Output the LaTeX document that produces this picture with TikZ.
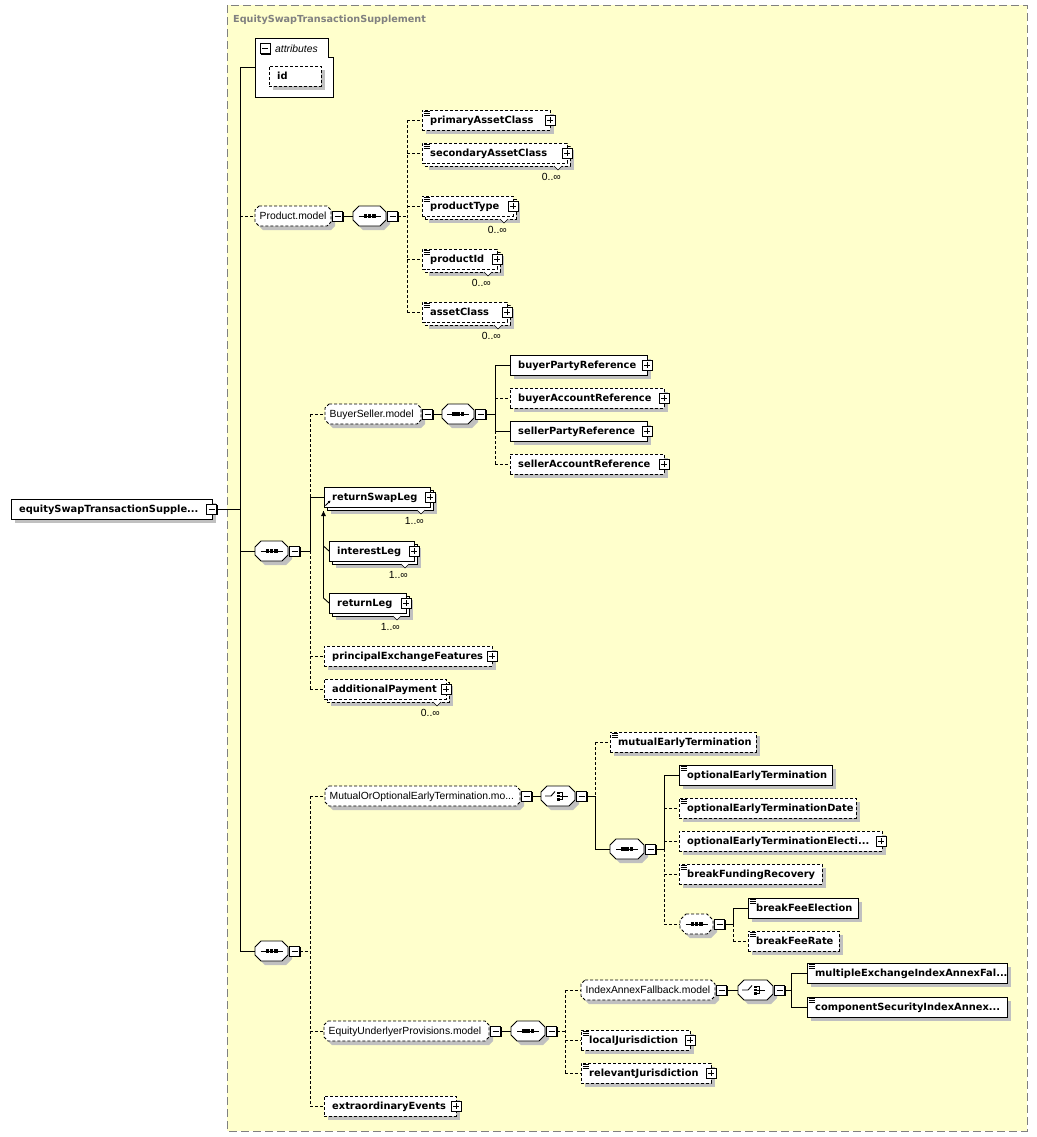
\documentclass[tikz,border=0pt]{standalone}
\usepackage{fontspec}
\setmainfont{Liberation Sans}
\newfontfamily\dvs{DejaVu Sans}
\usetikzlibrary{arrows.meta}
\definecolor{bgy}{HTML}{FFFFCC}
\definecolor{shd}{HTML}{C0C0C0}
\definecolor{frm}{HTML}{808080}
\tikzset{
  ln/.style={line width=0.9bp,draw=black},
  dsh/.style={dash pattern=on 3bp off 2bp},
  ebox/.style={draw=black,line width=0.9bp,fill=white,minimum height=20bp,inner sep=0pt,outer sep=0pt,anchor=west},
  etext/.style={font={\fontsize{9.9}{11}\dvs\bfseries},inner sep=0pt,anchor=base west},
  gtext/.style={font={\fontsize{10.4}{12}\selectfont},inner sep=0pt,anchor=base west},
  mult/.style={font={\fontsize{10.4}{12}\selectfont},inner sep=0pt,anchor=base east},
  pmbox/.style={draw=black,fill=white,line width=0.8bp,minimum size=10bp,inner sep=0pt,outer sep=0pt},
  anch/.style={inner sep=0pt,outer sep=0pt,minimum height=20bp,anchor=west},
}
\newcommand\PM[4]{%
  \fill[black] ({#2-4},{#3-4}) rectangle ({#2+6},{#3+6});
  \node[pmbox] (#1) at ({#2},{#3}) {};
  \draw[line width=0.8bp] ([xshift=-3bp]#1.center) -- ([xshift=3bp]#1.center);
  \ifnum#4=1 \draw[line width=0.8bp] ([yshift=-3bp]#1.center) -- ([yshift=3bp]#1.center);\fi
}
\newcommand\El[6]{%
  \fill[shd] ({#2+4},{#3-6}) rectangle ({#2+#4+4},{#3+14});
  \node[ebox,#5,minimum width=#4bp] (#1) at ({#2},{#3}) {};
  \node[etext] (#1-t) at ({#2+8},{#3+3.5}) {#6};
}
\newcommand\ElM[7]{%
  \fill[shd] ({#2+7},{#3-3}) rectangle ({#2+#4+7},{#3+17});
  \node[ebox,#5,minimum width=#4bp] (#1-b) at ({#2+3},{#3+3}) {};
  \filldraw[fill=white,line width=0.6bp] ({#2+#4-13},{#3+13}) -- ({#2+#4-9},{#3+17}) -- ({#2+#4-5},{#3+13});
  \node[ebox,#5,minimum width=#4bp] (#1) at ({#2},{#3}) {};
  \node[etext] (#1-t) at ({#2+8},{#3+3.5}) {#6};
  \node[mult] (#1-m) at ({#2+#4-6},{#3+27.5}) {#7};
}
\newcommand\Simp[1]{\foreach \d in {1.8bp,3.6bp,5.4bp}{\draw[line width=0.7bp] ([xshift=1.5bp,yshift=-\d]#1.north west) -- ++(6bp,0);}}
\newcommand\octpath[4]{({#1+#4},{#2-10}) -- ({#1+#3-#4},{#2-10}) -- ({#1+#3},{#2-10+#4}) -- ({#1+#3},{#2+10-#4}) -- ({#1+#3-#4},{#2+10}) -- ({#1+#4},{#2+10}) -- ({#1},{#2+10-#4}) -- ({#1},{#2-10+#4}) -- cycle}
\newcommand\Oct[6]{%
  \fill[shd] \octpath{#2+4}{#3+4}{#4}{#5};
  \filldraw[fill=white,line width=0.9bp,#6] \octpath{#2}{#3}{#4}{#5};
  \node[anch,minimum width=#4bp] (#1) at ({#2},{#3}) {};
}
\newcommand\Grp[5]{\Oct{#1}{#2}{#3}{#4}{4}{dsh}\node[gtext] (#1-t) at ({#2+4.5},{#3+3.7}) {#5};\PM{#1-m}{#2+#4+6.5}{#3}{0}}
\newcommand\Comp[5]{\Oct{#1}{#2}{#3}{#4}{6}{#5}\PM{#1-m}{#2+#4+6.5}{#3}{0}}
\newcommand\SeqSym[1]{\draw[line width=1bp] ([xshift=-11bp]#1.center) -- ([xshift=11bp]#1.center);
  \foreach \dx in {-6bp,-1.75bp,2.5bp}{\fill ([xshift=\dx,yshift=-1.6bp]#1.center) rectangle ++(3.5bp,3.2bp);}}
\newcommand\ChSym[1]{%
  \draw[line width=0.9bp] ([xshift=4bp]#1.west) -- ++(6bp,0) -- ++(4bp,4.5bp);
  \foreach \dy in {-4.5bp,-1.25bp,2bp}{\fill ([xshift=16bp,yshift=\dy]#1.west) rectangle ++(2.5bp,2.5bp);}
  \draw[line width=0.8bp] ([xshift=18.5bp,yshift=3.25bp]#1.west) -- ++(3bp,0) -- ++(0,-6.5bp) -- ++(-3bp,0);
  \draw[line width=0.8bp] ([xshift=18.5bp]#1.west) -- ++(8bp,0);
}
\begin{document}
\begin{tikzpicture}[x=1bp,y=-1bp]
\useasboundingbox (0,0) rectangle (1037,1137);
\fill[white] (0,0) rectangle (1037,1137);
\filldraw[fill=bgy,draw=frm,line width=1bp,dash pattern=on 8bp off 4bp] (227,5) rectangle (1027,1131);
\node[font={\fontsize{9.7}{11}\dvs\bfseries},text=frm,anchor=base west,inner sep=0pt] (title) at (233,22.5) {EquitySwapTransactionSupplement};
% attributes
\filldraw[fill=white,line width=0.9bp] (255,38) -- (328,38) -- (328,57) -- (333,57) -- (333,97) -- (255,97) -- cycle;
\node[anch,minimum width=78bp,minimum height=59bp] (attr) at (255,67.5) {};
\PM{attr-m}{265}{48.5}{0}
\node[font={\itshape\fontsize{10.4}{12}\selectfont},anchor=base west,inner sep=0pt] (attr-t) at (275,52.5) {attributes};
\El{id}{269}{76}{52}{dsh}{id}
% root
\El{root}{11}{509}{201}{solid}{equitySwapTransactionSupple...}
\PM{root-m}{211.5}{509}{0}
% Product.model
\Grp{pm}{255}{216}{76}{Product.model}
\Comp{pseq}{353}{216}{33}{solid}\SeqSym{pseq}
\El{pac}{422}{120}{128}{dsh}{primaryAssetClass}\Simp{pac}\PM{pac-p}{550}{120}{1}
\ElM{sac}{422}{153}{145}{dsh}{secondaryAssetClass}{0..∞}\Simp{sac}\PM{sac-p}{567}{153}{1}
\ElM{pt}{422}{206}{91}{dsh}{productType}{0..∞}\Simp{pt}\PM{pt-p}{513}{206}{1}
\ElM{pid}{422}{259}{75}{dsh}{productId}{0..∞}\Simp{pid}\PM{pid-p}{497}{259}{1}
\ElM{ac}{422}{312}{85}{dsh}{assetClass}{0..∞}\Simp{ac}\PM{ac-p}{507}{312}{1}
% BuyerSeller
\Grp{bs}{325}{414}{96}{BuyerSeller.model}
\Comp{bsseq}{442}{414}{32}{solid}\SeqSym{bsseq}
\El{bpr}{510}{365}{137}{solid}{buyerPartyReference}\PM{bpr-p}{647}{365}{1}
\El{bar}{510}{398}{154}{dsh}{buyerAccountReference}\PM{bar-p}{664}{398}{1}
\El{spr}{510}{431}{137}{solid}{sellerPartyReference}\PM{spr-p}{647}{431}{1}
\El{sar}{510}{464}{154}{dsh}{sellerAccountReference}\PM{sar-p}{664}{464}{1}
% sequence 1
\Comp{seqa}{255}{551}{33}{solid}\SeqSym{seqa}
\ElM{rsl}{324}{497}{106}{solid}{returnSwapLeg}{1..∞}\PM{rsl-p}{430}{497}{1}
\draw[line width=0.8bp,-{Triangle[length=2.5bp,width=2.5bp]}] (325.5,505.5) -- (330.5,500.5);
\ElM{il}{329}{551}{85}{solid}{interestLeg}{1..∞}\PM{il-p}{414}{551}{1}
\ElM{rl}{329}{603}{77}{solid}{returnLeg}{1..∞}\PM{rl-p}{406}{603}{1}
\El{pef}{324}{656}{168}{dsh}{principalExchangeFeatures}\PM{pef-p}{492}{656}{1}
\ElM{ap}{324}{689}{122}{dsh}{additionalPayment}{0..∞}\PM{ap-p}{446}{689}{1}
% sequence 3
\Comp{seqb}{255}{951}{33}{solid}\SeqSym{seqb}
\Grp{moe}{325}{796}{195}{MutualOrOptionalEarlyTermination.mo...}
\Comp{cha}{541}{796}{34}{solid}\ChSym{cha}
\El{met}{610}{742}{146}{dsh}{mutualEarlyTermination}\Simp{met}
\Comp{iseq}{610}{849}{34}{solid}\SeqSym{iseq}
\El{oet}{679}{775}{153}{solid}{optionalEarlyTermination}\Simp{oet}
\El{oetd}{679}{808}{177}{dsh}{optionalEarlyTerminationDate}\Simp{oetd}
\El{oete}{679}{841}{203}{dsh}{optionalEarlyTerminationElecti...}\PM{oete-p}{881}{841}{1}
\El{bfr}{679}{874}{143}{dsh}{breakFundingRecovery}\Simp{bfr}
\Comp{bseq}{680}{924}{33}{dsh}\SeqSym{bseq}
\El{bfe}{748}{908}{110}{solid}{breakFeeElection}\Simp{bfe}
\El{bfrt}{748}{941}{91}{dsh}{breakFeeRate}\Simp{bfrt}
\Grp{eup}{324}{1031}{165}{EquityUnderlyerProvisions.model}
\Comp{eseq}{511}{1031}{34}{solid}\SeqSym{eseq}
\Grp{iaf}{581}{990}{134}{IndexAnnexFallback.model}
\Comp{chb}{738}{990}{35}{solid}\ChSym{chb}
\El{mei}{807}{973}{200}{solid}{multipleExchangeIndexAnnexFal...}\Simp{mei}
\El{csi}{807}{1007}{200}{solid}{componentSecurityIndexAnnex...}\Simp{csi}
\El{lj}{581}{1040}{109}{dsh}{localJurisdiction}\Simp{lj}\PM{lj-p}{690}{1040}{1}
\El{rj}{581}{1073}{130}{dsh}{relevantJurisdiction}\Simp{rj}\PM{rj-p}{711}{1073}{1}
\El{xe}{324}{1106}{132}{dsh}{extraordinaryEvents}\PM{xe-p}{456}{1106}{1}
% ---------- connectors
\coordinate (v0) at (240,509);
\draw[ln] (root-m.east) -- (v0);
\draw[ln] (v0 |- attr.west) -- (attr.west);
\draw[ln] (v0 |- attr.west) -- (v0 |- seqb.west);
\draw[ln,dsh] (v0 |- pm.west) -- (pm.west);
\draw[ln] (v0 |- seqa.west) -- (seqa.west);
\draw[ln] (v0 |- seqb.west) -- (seqb.west);
% product
\draw[ln] (pm-m.east) -- (pseq.west);
\coordinate (vP) at (407,216);
\draw[ln,dsh] (pseq-m.east) -- (vP);
\draw[ln,dsh] (vP |- pac.west) -- (vP |- ac.west);
\foreach \n in {pac,sac,pt,pid,ac} \draw[ln,dsh] (vP |- \n.west) -- (\n.west);
% buyer seller
\coordinate (v1) at (310,551);
\draw[ln,dsh] (v1 |- bs.west) -- (bs.west);
\draw[ln] (bs-m.east) -- (bsseq.west);
\coordinate (vB) at (495,414);
\draw[ln] (bsseq-m.east) -- (vB);
\draw[ln] (vB |- bpr.west) -- (vB |- spr.west);
\draw[ln,dsh] (vB |- spr.west) -- (vB |- sar.west);
\draw[ln] (vB |- bpr.west) -- (bpr.west);
\draw[ln,dsh] (vB |- bar.west) -- (bar.west);
\draw[ln] (vB |- spr.west) -- (spr.west);
\draw[ln,dsh] (vB |- sar.west) -- (sar.west);
% sequence 1
\draw[ln] (seqa-m.east) -- (v1);
\draw[ln,dsh] (v1 |- bs.west) -- (v1 |- rsl.west);
\draw[ln] (v1 |- rsl.west) -- (v1);
\draw[ln,dsh] (v1) -- (v1 |- ap.west);
\draw[ln] (v1 |- rsl.west) -- (rsl.west);
\draw[ln,dsh] (v1 |- pef.west) -- (pef.west);
\draw[ln,dsh] (v1 |- ap.west) -- (ap.west);
% substitution group
\coordinate (sbt) at (323.5,511);
\coordinate (sbi) at (323.5,546);
\coordinate (sbb) at (323.5,598);
\draw[ln] (sbt) -- (sbb) -- (rl.west);
\draw[ln] (sbi) -- (il.west);
\fill (sbt) -- ++(2.5bp,-5bp) -- ++(-5bp,0) -- cycle;
% sequence 3
\coordinate (v3) at (310,951);
\draw[ln,dsh] (seqb-m.east) -- (v3);
\draw[ln,dsh] (v3 |- moe.west) -- (v3 |- xe.west);
\foreach \n in {moe,eup,xe} \draw[ln,dsh] (v3 |- \n.west) -- (\n.west);
% mutual
\draw[ln] (moe-m.east) -- (cha.west);
\coordinate (vM) at (595,796);
\draw[ln] (cha-m.east) -- (vM);
\draw[ln,dsh] (vM |- met.west) -- (vM);
\draw[ln] (vM) -- (vM |- iseq.west);
\draw[ln,dsh] (vM |- met.west) -- (met.west);
\draw[ln] (vM |- iseq.west) -- (iseq.west);
\coordinate (vI) at (664,849);
\draw[ln] (iseq-m.east) -- (vI);
\draw[ln] (vI |- oet.west) -- (vI);
\draw[ln,dsh] (vI) -- (vI |- bseq.west);
\draw[ln] (vI |- oet.west) -- (oet.west);
\foreach \n in {oetd,oete,bfr,bseq} \draw[ln,dsh] (vI |- \n.west) -- (\n.west);
\coordinate (vK) at (733,924);
\draw[ln] (bseq-m.east) -- (vK);
\draw[ln] (vK |- bfe.west) -- (vK);
\draw[ln,dsh] (vK) -- (vK |- bfrt.west);
\draw[ln] (vK |- bfe.west) -- (bfe.west);
\draw[ln,dsh] (vK |- bfrt.west) -- (bfrt.west);
% equity
\draw[ln] (eup-m.east) -- (eseq.west);
\coordinate (vE) at (565,1031);
\draw[ln,dsh] (eseq-m.east) -- (vE);
\draw[ln,dsh] (vE |- iaf.west) -- (vE |- rj.west);
\foreach \n in {iaf,lj,rj} \draw[ln,dsh] (vE |- \n.west) -- (\n.west);
\draw[ln] (iaf-m.east) -- (chb.west);
\coordinate (vX) at (791,990);
\draw[ln] (chb-m.east) -- (vX);
\draw[ln] (vX |- mei.west) -- (vX |- csi.west);
\draw[ln] (vX |- mei.west) -- (mei.west);
\draw[ln] (vX |- csi.west) -- (csi.west);
\end{tikzpicture}
\end{document}
